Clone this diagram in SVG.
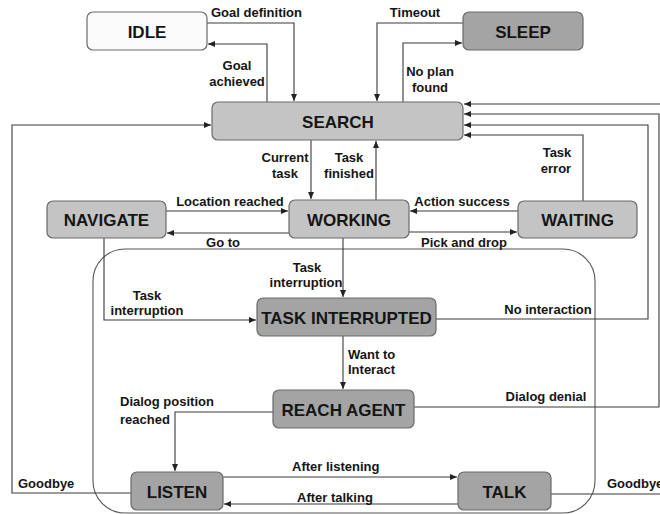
<svg xmlns="http://www.w3.org/2000/svg" width="660" height="514" viewBox="0 0 660 514">
<style>
.node rect{stroke:#6a6a6a;stroke-width:1.2}
.light rect{fill:#c4c4c4}
.dark rect{fill:#a4a4a4}
.white rect{fill:#fbfbfb}
.node text{font-family:"Liberation Sans",Arial,sans-serif;font-weight:bold;font-size:17px;fill:#151515;text-anchor:middle}
.lbl{font-family:"Liberation Sans",Arial,sans-serif;font-weight:bold;font-size:13px;fill:#151515}
.mid{text-anchor:middle}
#connectors path{fill:none;stroke:#3a3a3a;stroke-width:1.1}
.arr{marker-end:url(#ah)}
</style>
<defs>
<marker id="ah" markerUnits="userSpaceOnUse" markerWidth="8" markerHeight="6" refX="7" refY="3" orient="auto">
<path d="M0,0 L7,3 L0,6 z" fill="#222"/>
</marker>
</defs>
<rect width="660" height="514" fill="#ffffff"/>
<rect id="group" x="93" y="249" width="502" height="264" rx="32" fill="none" stroke="#555" stroke-width="1.1"/>

<g id="connectors">
<path class="arr" d="M207,23 H294 V101"/>
<path class="arr" d="M267,102 V44 H208"/>
<path class="arr" d="M463,23 H377 V101"/>
<path class="arr" d="M403,102 V43 H462"/>
<path class="arr" d="M660,104 H464"/>
<path class="arr" d="M414,407 H659 V114 H464"/>
<path class="arr" d="M436,319 H648 V125 H464"/>
<path class="arr" d="M583,201 V135 H464"/>
<path d="M551,494 H660"/>
<path class="arr" d="M131,493 H12 V125 H211"/>
<path class="arr" d="M311,140 V199"/>
<path class="arr" d="M376,200 V141"/>
<path class="arr" d="M166,211 H288"/>
<path class="arr" d="M289,233 H167"/>
<path class="arr" d="M518,211 H410"/>
<path class="arr" d="M409,232 H517"/>
<path class="arr" d="M343,238 V297"/>
<path class="arr" d="M104,238 V320 H256"/>
<path class="arr" d="M343,336 V389"/>
<path class="arr" d="M273,412 H175 V471"/>
<path class="arr" d="M223,477 H457"/>
<path class="arr" d="M458,504 H224"/>
</g>

<g id="labels">
<text class="lbl" x="211" y="17">Goal definition</text>
<text class="lbl mid" x="237" y="70">Goal</text>
<text class="lbl mid" x="237" y="86">achieved</text>
<text class="lbl mid" x="415" y="17">Timeout</text>
<text class="lbl mid" x="430" y="76">No plan</text>
<text class="lbl mid" x="430" y="92">found</text>
<text class="lbl mid" x="285" y="162">Current</text>
<text class="lbl mid" x="285" y="178">task</text>
<text class="lbl mid" x="349" y="162">Task</text>
<text class="lbl mid" x="349" y="178">finished</text>
<text class="lbl mid" x="557" y="157">Task</text>
<text class="lbl mid" x="556" y="173">error</text>
<text class="lbl mid" x="230" y="206">Location reached</text>
<text class="lbl mid" x="223" y="247">Go to</text>
<text class="lbl mid" x="462" y="206">Action success</text>
<text class="lbl mid" x="464" y="247">Pick and drop</text>
<text class="lbl mid" x="307" y="272">Task</text>
<text class="lbl mid" x="306" y="287">interruption</text>
<text class="lbl mid" x="147" y="300">Task</text>
<text class="lbl mid" x="147" y="315">interruption</text>
<text class="lbl mid" x="548" y="314">No interaction</text>
<text class="lbl" x="348" y="359">Want to</text>
<text class="lbl" x="348" y="374">Interact</text>
<text class="lbl mid" x="546" y="401">Dialog denial</text>
<text class="lbl" x="120" y="406">Dialog position</text>
<text class="lbl" x="120" y="424">reached</text>
<text class="lbl" x="18" y="488">Goodbye</text>
<text class="lbl" x="607" y="488">Goodbye</text>
<text class="lbl" x="292" y="471">After listening</text>
<text class="lbl" x="297" y="502">After talking</text>
</g>

<g id="idle" class="node white"><rect x="87" y="12" width="120" height="38" rx="6"/><text x="147" y="37.5">IDLE</text></g>
<g id="sleep" class="node dark"><rect x="463" y="12" width="120" height="38" rx="6"/><text x="523" y="37.5">SLEEP</text></g>
<g id="search" class="node light"><rect x="212" y="102" width="251" height="38" rx="6"/><text x="338" y="127.5">SEARCH</text></g>
<g id="navigate" class="node light"><rect x="47" y="201" width="119" height="37" rx="6"/><text x="106.5" y="226">NAVIGATE</text></g>
<g id="working" class="node light"><rect x="289" y="200" width="120" height="38" rx="6"/><text x="349" y="225.5">WORKING</text></g>
<g id="waiting" class="node light"><rect x="518" y="201" width="119" height="37" rx="6"/><text x="577.5" y="226">WAITING</text></g>
<g id="task-interrupted" class="node dark"><rect x="257" y="298" width="179" height="38" rx="6"/><text x="346.5" y="323.5">TASK INTERRUPTED</text></g>
<g id="reach-agent" class="node dark"><rect x="273" y="390" width="141" height="38" rx="6"/><text x="343.5" y="415.5">REACH AGENT</text></g>
<g id="listen" class="node dark"><rect x="131" y="472" width="92" height="38" rx="6"/><text x="177" y="497.5">LISTEN</text></g>
<g id="talk" class="node dark"><rect x="458" y="472" width="93" height="38" rx="6"/><text x="504.5" y="497.5">TALK</text></g>
</svg>
